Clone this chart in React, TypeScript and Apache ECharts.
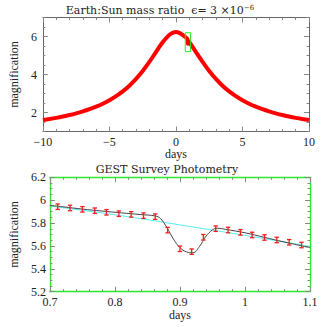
import React, { useEffect, useRef } from "react";
import * as echarts from "echarts";

// ---- Top panel: full light curve ----
const topDays = [-10, -9.5, -9, -8.5, -8, -7.5, -7, -6.5, -6, -5.5, -5, -4.5, -4, -3.5, -3, -2.5, -2, -1.5, -1, -0.5, -0.25, 0, 0.25, 0.5, 0.86, 0.9, 0.92, 0.95, 1.0, 1.5, 2, 2.5, 3, 3.5, 4, 4.5, 5, 5.5, 6, 6.5, 7, 7.5, 8, 8.5, 9, 9.5, 10];
const topMag = [1.6, 1.655, 1.717, 1.787, 1.865, 1.955, 2.056, 2.173, 2.308, 2.464, 2.646, 2.86, 3.112, 3.412, 3.766, 4.183, 4.661, 5.183, 5.692, 6.084, 6.195, 6.233, 6.195, 6.084, 5.86, 5.62, 5.6, 5.74, 5.71, 5.183, 4.661, 4.183, 3.766, 3.412, 3.112, 2.86, 2.646, 2.464, 2.308, 2.173, 2.056, 1.955, 1.865, 1.787, 1.717, 1.655, 1.6];
const zoomBoxDays = [0.7, 1.1, 1.1, 0.7, 0.7];
const zoomBoxMag = [5.2, 5.2, 6.2, 6.2, 5.2];
const topYLabels = [2, 4, 6];

// ---- Bottom panel: GEST photometry ----
const obsDays = [0.712, 0.731, 0.75, 0.769, 0.787, 0.806, 0.825, 0.844, 0.862, 0.881, 0.9, 0.918, 0.936, 0.955, 0.974, 0.993, 1.011, 1.03, 1.049, 1.068, 1.087];
const obsMag = [5.943, 5.932, 5.92, 5.908, 5.894, 5.882, 5.876, 5.865, 5.856, 5.738, 5.575, 5.55, 5.676, 5.751, 5.739, 5.719, 5.696, 5.674, 5.652, 5.632, 5.608];
const obsErr = [0.024, 0.024, 0.024, 0.024, 0.024, 0.024, 0.024, 0.024, 0.024, 0.024, 0.024, 0.024, 0.024, 0.024, 0.024, 0.024, 0.024, 0.024, 0.024, 0.024, 0.024];
const noPlanetDays = [0.7, 0.8, 0.9, 1.0, 1.1];
const noPlanetMag = [5.949, 5.872, 5.784, 5.692, 5.596];
const modelDays = [0.7, 0.72, 0.75, 0.78, 0.81, 0.84, 0.862, 0.87, 0.88, 0.89, 0.9, 0.91, 0.92, 0.93, 0.94, 0.95, 0.957, 0.97, 1.0, 1.03, 1.06, 1.1];
const modelMag = [5.955, 5.942, 5.922, 5.905, 5.889, 5.874, 5.862, 5.84, 5.76, 5.66, 5.585, 5.548, 5.54, 5.595, 5.685, 5.74, 5.755, 5.745, 5.715, 5.675, 5.635, 5.585];

const FONT = "Liberation Serif";
const TITLE_FONT = "DejaVu Serif";
const pair = (xs: number[], ys: number[]) => xs.map((x, i) => [x, ys[i]]);

export default function App() {
  const ref = useRef<HTMLDivElement>(null);
  useEffect(() => {
    if (!ref.current) return;
    const chart = echarts.init(ref.current, null, { renderer: "svg" });
    const grayLine = { onZero: false, lineStyle: { color: "#666", width: 1 } };
    const greenLine = { onZero: false, lineStyle: { color: "#2ee82e", width: 1.3 } };
    const tickStyle = { color: "#888", width: 1 };
    const labelStyle = { fontFamily: FONT, fontSize: 12, color: "#222" };
    const nameStyle = { fontFamily: FONT, fontSize: 12, color: "#222" };

    const option: any = {
      animation: false,
      backgroundColor: "#fff",
      title: [
        {
          text: "Earth:Sun mass ratio  ϵ= 3 ×10{sup|−6}",
          left: 160,
          textAlign: "center",
          top: 4,
          padding: 0,
          textStyle: {
            fontFamily: TITLE_FONT,
            fontSize: 11,
            fontWeight: "normal",
            color: "#222",
            rich: {
              sup: { fontFamily: TITLE_FONT, fontSize: 7, color: "#222", verticalAlign: "top", padding: [0, 0, 6, 0] },
            },
          },
        },
        {
          text: "GEST Survey Photometry",
          left: 167,
          textAlign: "center",
          top: 164,
          padding: 0,
          textStyle: { fontFamily: TITLE_FONT, fontSize: 11, fontWeight: "normal", color: "#222" },
        },
      ],
      grid: [
        { left: 36, top: 17.5, width: 273, height: 114, containLabel: false },
        { left: 36, top: 177.3, width: 274, height: 114.4, containLabel: false },
      ],
      xAxis: [
        {
          gridIndex: 0, type: "value", position: "bottom", min: -10, max: 10, interval: 5,
          axisLine: { show: true, ...grayLine }, splitLine: { show: false },
          axisTick: { show: true, inside: true, length: 5, lineStyle: tickStyle },
          minorTick: { show: true, splitNumber: 5, length: 2.5, lineStyle: tickStyle },
          axisLabel: { ...labelStyle, margin: 4, formatter: (v: number) => (v < 0 ? "−" + Math.abs(v) : String(v)) },
          name: "days", nameLocation: "middle", nameGap: 15, nameTextStyle: nameStyle,
        },
        {
          gridIndex: 0, type: "value", position: "top", min: -10, max: 10, interval: 5,
          axisLine: { show: true, ...grayLine }, splitLine: { show: false },
          axisTick: { show: true, inside: true, length: 5, lineStyle: tickStyle },
          minorTick: { show: true, splitNumber: 5, length: 2.5, lineStyle: tickStyle },
          axisLabel: { show: false },
        },
        {
          gridIndex: 1, type: "value", position: "bottom", min: 0.7, max: 1.1, interval: 0.1,
          axisLine: { show: true, ...greenLine }, splitLine: { show: false },
          axisTick: { show: true, inside: true, length: 5, lineStyle: tickStyle },
          minorTick: { show: true, splitNumber: 5, length: 2.5, lineStyle: tickStyle },
          axisLabel: { ...labelStyle, margin: 4 },
          name: "days", nameLocation: "middle", nameGap: 15, nameTextStyle: nameStyle,
        },
        {
          gridIndex: 1, type: "value", position: "top", min: 0.7, max: 1.1, interval: 0.1,
          axisLine: { show: true, ...greenLine }, splitLine: { show: false },
          axisTick: { show: true, inside: true, length: 5, lineStyle: tickStyle },
          minorTick: { show: true, splitNumber: 5, length: 2.5, lineStyle: tickStyle },
          axisLabel: { show: false },
        },
      ],
      yAxis: [
        {
          gridIndex: 0, type: "value", position: "left", min: 1, max: 7,
          axisLine: { show: true, ...grayLine }, splitLine: { show: false },
          axisTick: { show: true, inside: true, length: 5, lineStyle: tickStyle, customValues: topYLabels },
          axisLabel: { ...labelStyle, margin: 6, customValues: topYLabels },
          name: "magnification", nameLocation: "middle", nameRotate: 90, nameGap: 14, nameTextStyle: nameStyle,
        },
        {
          gridIndex: 0, type: "value", position: "left", min: 1, max: 7, interval: 0.5,
          axisLine: { show: false, onZero: false }, splitLine: { show: false },
          axisTick: { show: true, inside: true, length: 2.5, lineStyle: tickStyle },
          axisLabel: { show: false },
        },
        {
          gridIndex: 0, type: "value", position: "right", min: 1, max: 7,
          axisLine: { show: true, ...grayLine }, splitLine: { show: false },
          axisTick: { show: true, inside: true, length: 5, lineStyle: tickStyle, customValues: topYLabels },
          axisLabel: { show: false },
        },
        {
          gridIndex: 0, type: "value", position: "right", min: 1, max: 7, interval: 0.5,
          axisLine: { show: false, onZero: false }, splitLine: { show: false },
          axisTick: { show: true, inside: true, length: 2.5, lineStyle: tickStyle },
          axisLabel: { show: false },
        },
        {
          gridIndex: 1, type: "value", position: "left", min: 5.2, max: 6.2, interval: 0.2,
          axisLine: { show: true, ...greenLine }, splitLine: { show: false },
          axisTick: { show: true, inside: true, length: 5, lineStyle: tickStyle },
          minorTick: { show: true, splitNumber: 4, length: 2.5, lineStyle: tickStyle },
          axisLabel: { ...labelStyle, margin: 4 },
          name: "magnification", nameLocation: "middle", nameRotate: 90, nameGap: 23, nameTextStyle: nameStyle,
        },
        {
          gridIndex: 1, type: "value", position: "right", min: 5.2, max: 6.2, interval: 0.2,
          axisLine: { show: true, ...greenLine }, splitLine: { show: false },
          axisTick: { show: true, inside: true, length: 5, lineStyle: tickStyle },
          minorTick: { show: true, splitNumber: 4, length: 2.5, lineStyle: tickStyle },
          axisLabel: { show: false },
        },
      ],
      series: [
        {
          type: "line", xAxisIndex: 0, yAxisIndex: 0, data: pair(topDays, topMag),
          showSymbol: false, smooth: 0.3, lineStyle: { color: "#ff0000", width: 4 }, z: 3,
        },
        {
          type: "line", xAxisIndex: 0, yAxisIndex: 0, data: pair(zoomBoxDays, zoomBoxMag),
          showSymbol: false, lineStyle: { color: "#22ee22", width: 1 }, z: 4,
        },
        {
          type: "line", xAxisIndex: 2, yAxisIndex: 4, data: pair(noPlanetDays, noPlanetMag),
          showSymbol: false, smooth: true, lineStyle: { color: "#55eeee", width: 1 }, z: 2,
        },
        {
          type: "line", xAxisIndex: 2, yAxisIndex: 4, data: pair(modelDays, modelMag),
          showSymbol: false, smooth: 0.4, lineStyle: { color: "#444", width: 1 }, z: 3,
        },
        {
          type: "custom", xAxisIndex: 2, yAxisIndex: 4,
          data: obsDays.map((d, i) => [d, obsMag[i], obsErr[i]]),
          renderItem: (params: any, api: any) => {
            const x = api.value(0);
            const y = api.value(1);
            const e = api.value(2);
            const top = api.coord([x, y + e]);
            const bot = api.coord([x, y - e]);
            const hw = 2.2;
            const style = { stroke: "#ee2020", lineWidth: 1.3 };
            return {
              type: "group",
              children: [
                { type: "line", shape: { x1: top[0], y1: top[1], x2: bot[0], y2: bot[1] }, style },
                { type: "line", shape: { x1: top[0] - hw, y1: top[1], x2: top[0] + hw, y2: top[1] }, style },
                { type: "line", shape: { x1: bot[0] - hw, y1: bot[1], x2: bot[0] + hw, y2: bot[1] }, style },
              ],
            };
          },
          z: 5,
        },
      ],
    };
    chart.setOption(option);
    return () => chart.dispose();
  }, []);
  return <div ref={ref} style={{ width: 327, height: 327, position: "absolute", left: 0, top: 0 }} />;
}
